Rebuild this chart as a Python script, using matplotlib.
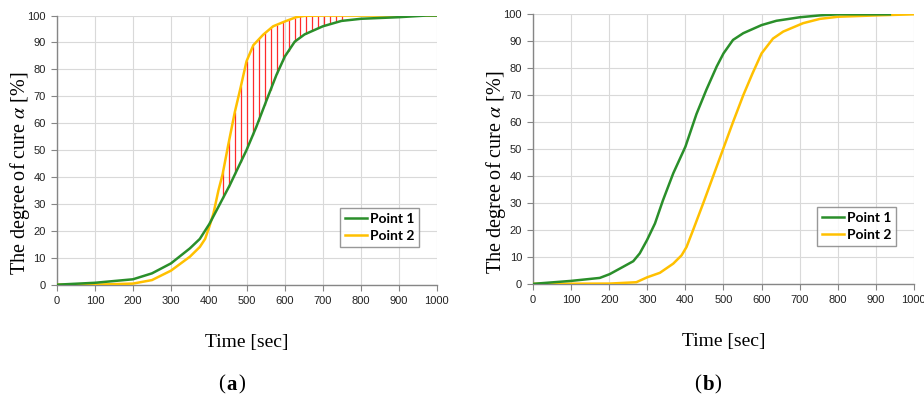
import numpy as np
import matplotlib
matplotlib.use("Agg")
import matplotlib.pyplot as plt
import matplotlib.ticker as ticker

# panel (a)
t_a1 = [0, 100, 200, 250, 300, 350, 376, 401, 429, 455, 482, 499, 525, 552, 578, 600, 626, 652, 700, 749, 801, 902, 972, 1000]
a_p1 = [0, 0.7, 2, 4.2, 7.9, 13.5, 17, 22.5, 30, 37, 45, 50, 58.7, 68.6, 78, 84.8, 90.3, 93, 96, 98, 98.8, 99.4, 100, 100]
t_a2 = [0, 100, 200, 250, 300, 350, 376, 390, 401, 412, 425, 436, 451, 468, 483, 499, 517, 543, 569, 600, 630, 652, 700, 1000]
a_p2 = [0, 0, 0.4, 1.7, 5.2, 10.4, 14, 17, 21.5, 26.5, 35, 41, 52, 64, 73, 83, 89, 92.9, 96, 97.8, 99.4, 99.9, 100, 100]

# panel (b)
t_b1 = [0, 100, 175, 201, 236, 263, 280, 299, 320, 341, 368, 400, 429, 455, 482, 500, 525, 552, 600, 639, 700, 753, 801, 937]
b_p1 = [0, 1.1, 2.2, 3.6, 6.3, 8.4, 11.3, 16.2, 22.4, 31, 41, 50.9, 63, 72, 80.6, 85.5, 90.5, 93, 96, 97.6, 98.9, 99.6, 100, 100]
t_b2 = [0, 201, 271, 299, 333, 368, 390, 403, 420, 447, 473, 499, 525, 552, 576, 600, 630, 657, 709, 753, 801, 902, 1000]
b_p2 = [0, 0.1, 0.6, 2.4, 4.1, 7.5, 10.6, 13.7, 19.9, 30, 40, 50, 60, 70, 78, 85.5, 91, 93.6, 96.7, 98.3, 99.1, 99.6, 100]

labels = ["Point 1", "Point 2"]
panel_tags = ["a", "b"]

green = "#2a8f2a"
yellow = "#ffc000"
serif = ["Liberation Serif", "DejaVu Serif"]
sans = ["Liberation Sans", "DejaVu Sans"]
plt.rcParams["mathtext.fontset"] = "stix"

fig = plt.figure(figsize=(9.24, 4.09), dpi=100)
ax_a = fig.add_axes([0.0617, 0.304, 0.411, 0.658])
ax_b = fig.add_axes([0.577, 0.306, 0.412, 0.659])


def style(ax):
    ax.set_xlim(0, 1000)
    ax.set_ylim(0, 100)
    ax.xaxis.set_major_locator(ticker.MultipleLocator(100))
    ax.yaxis.set_major_locator(ticker.MultipleLocator(10))
    ax.grid(True, color="#d9d9d9", linewidth=0.8)
    ax.set_axisbelow(True)
    for s in ["top", "right"]:
        ax.spines[s].set_visible(False)
    for s in ["left", "bottom"]:
        ax.spines[s].set_color("#868686")
        ax.spines[s].set_linewidth(1.0)
    ax.tick_params(length=4, width=0.8, color="#868686", labelsize=8, pad=4)
    for lab in ax.get_xticklabels() + ax.get_yticklabels():
        lab.set_family(sans)
        lab.set_color("#222222")
    ax.set_ylabel("The degree of cure $\\alpha$ [%]", family=serif, fontsize=14.5)
    ax.yaxis.label.set_va("center")
    ax.yaxis.set_label_coords(-0.098, 0.415)
    ax.set_xlabel("Time [sec]", family=serif, fontsize=14, labelpad=20)
    leg = ax.legend(loc="upper left", bbox_to_anchor=(0.745, 0.285), borderaxespad=0,
                    frameon=True, fancybox=False, handlelength=1.6, handletextpad=0.2,
                    labelspacing=0.35, borderpad=0.35,
                    prop={"family": ["Lato", "DejaVu Sans"], "weight": "bold", "size": 10})
    leg.get_frame().set_edgecolor("#7f7f7f")
    leg.get_frame().set_linewidth(1.0)


# red hatching between the two curves of panel (a)
hx = np.arange(437, 760, 15.7)
ax_a.vlines(hx, np.interp(hx, t_a1, a_p1), np.interp(hx, t_a2, a_p2),
            color="#ff2a2a", linewidth=0.9, zorder=2)

ax_a.plot(t_a1, a_p1, color=green, linewidth=1.8, label=labels[0], zorder=4)
ax_a.plot(t_a2, a_p2, color=yellow, linewidth=1.8, label=labels[1], zorder=3)
ax_b.plot(t_b1, b_p1, color=green, linewidth=1.8, label=labels[0], zorder=4)
ax_b.plot(t_b2, b_p2, color=yellow, linewidth=1.8, label=labels[1], zorder=3)

style(ax_a)
style(ax_b)

# panel tags: (a), (b) with bold letter
for x, ch in zip([0.2511, 0.7663], panel_tags):
    fig.text(x - 0.011, 0.058, "(", family=serif, fontsize=15, ha="center", va="center")
    fig.text(x, 0.058, ch, family=serif, fontsize=15, fontweight="bold", ha="center", va="center")
    fig.text(x + 0.011, 0.058, ")", family=serif, fontsize=15, ha="center", va="center")

fig.savefig("out.png", dpi=100)
